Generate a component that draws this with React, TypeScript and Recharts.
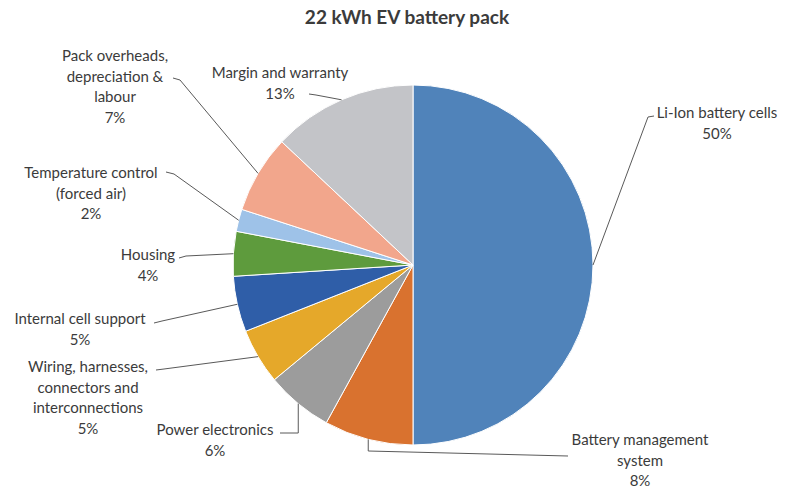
import { PieChart, Pie, Cell } from "recharts";

// cost breakdown of a 22 kWh pack, in percent, clockwise from 12 o'clock
const categories = [
  "Li-Ion battery cells",
  "Battery management system",
  "Power electronics",
  "Wiring, harnesses, connectors and interconnections",
  "Internal cell support",
  "Housing",
  "Temperature control (forced air)",
  "Pack overheads, depreciation & labour",
  "Margin and warranty",
];
const shares = [50, 8, 6, 5, 5, 4, 2, 7, 13];
const sliceColors = [
  "#5083ba",
  "#d9722f",
  "#9c9c9c",
  "#e5a82a",
  "#2f5ea8",
  "#5e9b3d",
  "#9ec2e8",
  "#f2a68c",
  "#c3c4c8",
];

// how each category name wraps in its label
const labelLines = [
  ["Li-Ion battery cells"],
  ["Battery management", "system"],
  ["Power electronics"],
  ["Wiring, harnesses,", "connectors and", "interconnections"],
  ["Internal cell support"],
  ["Housing"],
  ["Temperature control", "(forced air)"],
  ["Pack overheads,", "depreciation &", "labour"],
  ["Margin and warranty"],
];

// label placement: text centre x, first baseline y, leader points from the slice outward.
// dropTo: the leader first drops vertically from the slice to this y.
type LabelPos = { x: number; y: number; via: number[][]; dropTo?: number };
const labelPos: LabelPos[] = [
  { x: 717, y: 118, via: [[648, 117], [654, 116]] },
  { x: 640, y: 445, via: [[568, 456]], dropTo: 451 },
  { x: 215, y: 435, via: [[280, 433]], dropTo: 433 },
  { x: 88, y: 372, via: [[164, 369], [156, 370]] },
  { x: 80, y: 324, via: [[162, 321], [154, 323]] },
  { x: 148, y: 260, via: [[186, 256], [179, 258]] },
  { x: 91, y: 178, via: [[174, 174], [166, 172]] },
  { x: 115, y: 61, via: [[180, 80], [173, 78]] },
  { x: 280, y: 78, via: [[316, 95], [309, 94]] },
];

const data = categories.map((name, i) => ({ name, value: shares[i] }));

const TEXT = "#3b3b3b";
const FONT = "Lato, 'Open Sans', sans-serif";
const RAD = Math.PI / 180;

// eslint-disable-next-line @typescript-eslint/no-explicit-any
function renderLabel(props: any) {
  const { cx, cy, midAngle, outerRadius, index } = props;
  const px = cx + outerRadius * Math.cos(-midAngle * RAD);
  const py = cy + outerRadius * Math.sin(-midAngle * RAD);
  const pos = labelPos[index];
  const pts: number[][] = [[px, py]];
  if (pos.dropTo !== undefined) pts.push([px, pos.dropTo]);
  pts.push(...pos.via);
  const lines = [...labelLines[index], `${shares[index]}%`];
  return (
    <g key={`lbl-${index}`}>
      <polyline
        points={pts.map((p) => p.join(",")).join(" ")}
        fill="none"
        stroke="#595959"
        strokeWidth={1}
      />
      <text
        x={pos.x}
        y={pos.y}
        textAnchor="middle"
        fill={TEXT}
        fontSize={15}
        fontFamily={FONT}
      >
        {lines.map((line, i) => (
          <tspan key={i} x={pos.x} dy={i === 0 ? 0 : 20.5}>
            {line}
          </tspan>
        ))}
      </text>
    </g>
  );
}

export default function App() {
  return (
    <div
      style={{
        position: "fixed",
        left: 0,
        top: 0,
        width: 785,
        height: 490,
        background: "#fff",
      }}
    >
      <div
        style={{
          position: "absolute",
          top: 5,
          left: 0,
          width: 814,
          textAlign: "center",
          fontFamily: FONT,
          fontWeight: 700,
          fontSize: 19,
          color: TEXT,
        }}
      >
        22 kWh EV battery pack
      </div>
      <PieChart
        width={785}
        height={490}
        margin={{ top: 0, right: 0, bottom: 0, left: 0 }}
      >
        <Pie
          data={data}
          dataKey="value"
          nameKey="name"
          cx={413}
          cy={265}
          outerRadius={180}
          startAngle={90}
          endAngle={-270}
          stroke="#ffffff"
          strokeWidth={1}
          label={renderLabel}
          labelLine={false}
          isAnimationActive={false}
        >
          {data.map((entry, i) => (
            <Cell key={entry.name} fill={sliceColors[i]} />
          ))}
        </Pie>
      </PieChart>
    </div>
  );
}
